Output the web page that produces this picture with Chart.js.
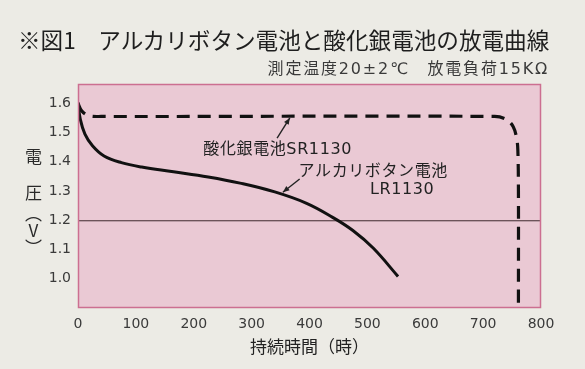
<!DOCTYPE html>
<html lang="ja">
<head>
<meta charset="utf-8">
<script src="https://cdn.jsdelivr.net/npm/chart.js@4/dist/chart.umd.min.js"></script>
<style>
html,body{margin:0;padding:0;background:#ecebe5;}
#wrap{position:relative;width:585px;height:369px;font-family:"DejaVu Sans","Noto Sans CJK JP",sans-serif;color:#222;}
#chart{position:absolute;left:0;top:0;}
.t{position:absolute;white-space:nowrap;line-height:1;}
#title{left:18px;top:29px;font-size:22.6px;color:#1e1e1e;font-family:"Noto Sans CJK JP",sans-serif;}
#sub{right:36px;top:61px;font-size:16px;color:#3a3a3a;letter-spacing:1.8px;}
.yl{font-size:17px;color:#2a2a2a;left:25px;font-family:"Noto Sans CJK JP",sans-serif;}
#yv{writing-mode:vertical-rl;text-orientation:upright;}
</style>
</head>
<body>
<div id="wrap">
  <canvas id="chart" width="585" height="369"></canvas>
  <div class="t" id="title">※図1　アルカリボタン電池と酸化銀電池の放電曲線</div>
  <div class="t" id="sub">測定温度20±2℃　放電負荷15KΩ</div>
  <div class="t yl" style="top:147px">電</div>
  <div class="t yl" style="top:183px">圧</div>
  <div class="t yl" id="yv" style="top:205px">（V）</div>
</div>
<script>
/* ===== データ ===== */
const xTicks=[0,100,200,300,400,500,600,700,800];
const yTicks=[1.0,1.1,1.2,1.3,1.4,1.5,1.6];

// アルカリボタン電池 LR1130
const lrHours=[0,4,12,25,45,75,110,165,225,280,340,395,440,475,510,553];
const lrVolts=[1.603,1.545,1.495,1.455,1.42,1.397,1.382,1.366,1.348,1.327,1.297,1.258,1.21,1.165,1.105,1.008];

// 酸化銀電池 SR1130
const srHours=[0,6,18,40,720,740,752,758,760,761,761];
const srVolts=[1.60,1.575,1.558,1.555,1.555,1.545,1.52,1.48,1.44,1.30,0.91];

// 注記（データ座標）
const labels=[
    {text:"酸化銀電池SR1130",h:345,v:1.44},
    {text:"アルカリボタン電池",h:510,v:1.365},
    {text:"LR1130",h:560,v:1.303}
];
const arrows=[
    {from:[344,1.481],to:[366,1.550]},
    {from:[383,1.341],to:[354,1.296]}
];
const refLine=1.2;

const toXY=(hs,vs)=>hs.map((h,i)=>({x:h,y:vs[i]}));
const tickFont={family:"DejaVu Sans",size:14};

/* ===== プロット背景と注記 ===== */
const plotDeco={
    id:"plotDeco",
    beforeDatasetsDraw(c){
        const {ctx,chartArea:a}=c;
        ctx.save();
        ctx.fillStyle="#eac9d4";
        ctx.fillRect(a.left,a.top,a.right-a.left,a.bottom-a.top);
        // 1.2V 基準線
        const y=c.scales.y.getPixelForValue(refLine);
        ctx.strokeStyle="#3e2a2e";ctx.lineWidth=1;
        ctx.beginPath();ctx.moveTo(a.left,y+.5);ctx.lineTo(a.right,y+.5);ctx.stroke();
        ctx.restore();
    },
    afterDatasetsDraw(c){
        const {ctx,chartArea:a,scales:{x,y}}=c;
        ctx.save();
        ctx.strokeStyle="#cc6f91";ctx.lineWidth=1.5;
        ctx.strokeRect(a.left+.5,a.top+.5,a.right-a.left-1,a.bottom-a.top-1);
        ctx.font='16px "DejaVu Sans","Noto Sans CJK JP"';ctx.fillStyle="#222";
        ctx.letterSpacing="0.6px";
        ctx.textAlign="center";ctx.textBaseline="middle";
        labels.forEach(l=>ctx.fillText(l.text,x.getPixelForValue(l.h),y.getPixelForValue(l.v)));
        ctx.strokeStyle="#222";ctx.fillStyle="#222";ctx.lineWidth=1.4;
        arrows.forEach(ar=>{
            const x1=x.getPixelForValue(ar.from[0]),y1=y.getPixelForValue(ar.from[1]);
            const x2=x.getPixelForValue(ar.to[0]),y2=y.getPixelForValue(ar.to[1]);
            const ang=Math.atan2(y2-y1,x2-x1);
            ctx.beginPath();ctx.moveTo(x1,y1);ctx.lineTo(x2,y2);ctx.stroke();
            ctx.beginPath();ctx.moveTo(x2,y2);
            ctx.lineTo(x2-7*Math.cos(ang-.4),y2-7*Math.sin(ang-.4));
            ctx.lineTo(x2-7*Math.cos(ang+.4),y2-7*Math.sin(ang+.4));
            ctx.closePath();ctx.fill();
        });
        ctx.restore();
    }
};

new Chart(document.getElementById("chart"),{
    type:"line",
    data:{datasets:[
        {label:"LR1130",data:toXY(lrHours,lrVolts),borderColor:"#111",borderWidth:3,pointRadius:0,
         tension:.4,fill:false},
        {label:"SR1130",data:toXY(srHours,srVolts),borderColor:"#111",borderWidth:3.2,pointRadius:0,
         borderDash:[13,8],tension:.35,fill:false}
    ]},
    options:{
        responsive:false,animation:false,
        layout:{padding:{left:0,right:44,top:84,bottom:0}},
        plugins:{legend:{display:false},tooltip:{enabled:false}},
        scales:{
            x:{type:"linear",min:0,max:800,
               afterFit:s=>{s.height=61;},
               afterBuildTicks:s=>{s.ticks=xTicks.map(v=>({value:v}));},
               grid:{display:false,drawTicks:false},border:{display:false},
               ticks:{padding:8,color:"#3a3a3a",font:tickFont},
               title:{display:true,text:"持続時間（時）",color:"#222",
                      font:{family:"Noto Sans CJK JP",size:17},padding:{top:0,bottom:12}}},
            y:{type:"linear",min:0.9,max:1.666,
               afterFit:s=>{s.width=78;},
               afterBuildTicks:s=>{s.ticks=yTicks.map(v=>({value:v}));},
               grid:{display:false,drawTicks:false},border:{display:false},
               ticks:{padding:7,color:"#3a3a3a",font:tickFont,callback:v=>v.toFixed(1)}}
        }
    },
    plugins:[plotDeco]
});
</script>
</body>
</html>
